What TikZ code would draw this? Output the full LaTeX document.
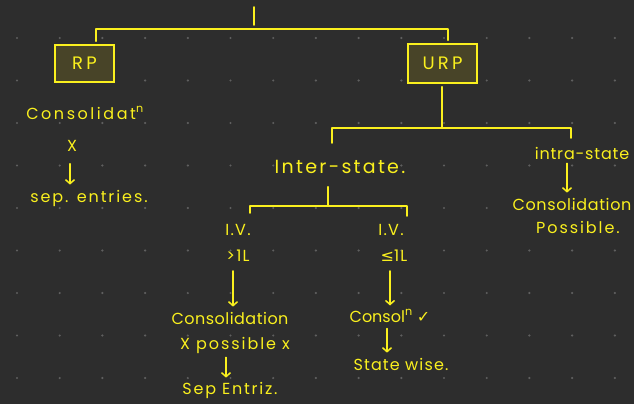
\documentclass[tikz,border=0pt]{standalone}
\usepackage{fontspec}
\setmainfont{Poppins}
\newfontfamily\symfont{DejaVu Sans}
\usetikzlibrary{arrows.meta}
\definecolor{bgc}{RGB}{45,45,45}
\definecolor{ink}{RGB}{250,240,30}
\definecolor{dotc}{RGB}{95,95,95}
\definecolor{boxfill}{RGB}{72,68,40}
\begin{document}
\begin{tikzpicture}[x=1pt,y=-1pt,
  line/.style={draw=ink, line width=1.8pt, line cap=round, line join=round},
  lbl/.style={text=ink, font=\fontsize{16}{18}\selectfont, inner sep=1pt},
  sp/.style={font=\fontsize{16}{18}\selectfont\addfontfeature{LetterSpace=#1}},
  boxnode/.style={draw=ink, fill=boxfill, line width=1.8pt, text=ink,
    font=\fontsize{18}{20}\selectfont\addfontfeature{LetterSpace=18}, inner sep=0pt},
  darrow/.style={draw=ink, line width=1.5pt, line cap=round,
    -{Straight Barb[length=4pt,width=9pt,line width=1.5pt]}}
]
\fill[bgc] (0,0) rectangle (634,404);
\useasboundingbox (0,0) rectangle (634,404);
\foreach \i in {0,...,14}{
  \foreach \j in {0,...,8}{
    \fill[dotc] (17+42.7*\i, 38+42.5*\j) circle (1.2pt);
  }
}
% boxes
\node[boxnode, minimum width=59pt, minimum height=37pt] (rp) at (84.5,63.5) {RP};
\node[boxnode, minimum width=69pt, minimum height=39pt] (urp) at (442.5,63.5) {URP};
% top tick
\coordinate (top) at (254,7);
\coordinate (j0) at (254,29);
\draw[line] (top) -- ([yshift=4pt]j0);
\draw[line] ([xshift=11.5pt,yshift=3pt]rp.north) |- (j0) -| ([xshift=5.5pt,yshift=3pt]urp.north);
% left branch
\node[lbl, sp=16] (cons1) at (85,113) {Consolidat\textsuperscript{n}};
\node[lbl] (x1) at (72,146) {X};
\node[lbl, sp=12] (sep1) at (89,198) {sep. entries.};
\draw[darrow, shorten <=11pt, shorten >=4pt] ([xshift=-2pt]x1.south) -- ([xshift=-2pt]x1.south |- sep1.north);
% URP branch
\node[lbl, font=\fontsize{19}{21}\selectfont\addfontfeature{LetterSpace=12}] (inter) at (340,167) {Inter-state.};
\node[lbl, sp=5] (intra) at (582,153) {intra-state};
\coordinate (j1) at (442,128);
\draw[line] ([xshift=-0.5pt,yshift=-3pt]urp.south) -- (j1);
\draw[line] (332,143) |- (j1) -| (571,138);
% intra
\node[lbl, sp=4] (cons2) at (572,204) {Consolidation};
\node[lbl, sp=12] (poss2) at (578,227) {Possible.};
\draw[darrow, shorten <=3pt, shorten >=4pt] ([xshift=-15pt]intra.south) -- ([xshift=-15pt]intra.south |- cons2.north);
% inter sub-tree
\coordinate (j2) at (328,206);
\draw[line] ([yshift=-12pt]inter.south -| j2) -- ([yshift=1pt]j2);
\draw[line] (250,213) |- (j2) -| (407,216);
\node[lbl, sp=8] (iv1) at (238,230) {I.V.};
\node[lbl, sp=8] (gt) at (238,256) {>1L};
\node[lbl, sp=8] (iv2) at (391,230) {I.V.};
\node[lbl, sp=8] (le) at (394,256) {{\symfont ≤}1L};
\node[lbl, sp=3] (cons3) at (230,318) {Consolidation};
\node[lbl] (cons4) at (390,316) {Consol\textsuperscript{n} {\symfont ✓}};
\draw[darrow, shorten <=8pt, shorten >=4pt] ([xshift=-5pt]gt.south) -- ([xshift=-5pt]gt.south |- cons3.north);
\draw[darrow, shorten <=8pt, shorten >=3pt] ([xshift=-4pt]le.south) -- ([xshift=-4pt]le.south |- cons4.north);
\node[lbl, sp=12] (poss3) at (235,345) {X possible x};
\node[lbl, sp=11] (sep3) at (230,390) {Sep Entriz.};
\draw[darrow, shorten <=3pt, shorten >=3pt] ([xshift=-9pt]poss3.south) -- ([xshift=-9pt]poss3.south |- sep3.north);
\node[lbl, sp=7] (state) at (401,364) {State wise.};
\draw[darrow, shorten <=5pt, shorten >=4pt] ([xshift=-3pt]cons4.south) -- ([xshift=-3pt]cons4.south |- state.north);
\end{tikzpicture}
\end{document}
